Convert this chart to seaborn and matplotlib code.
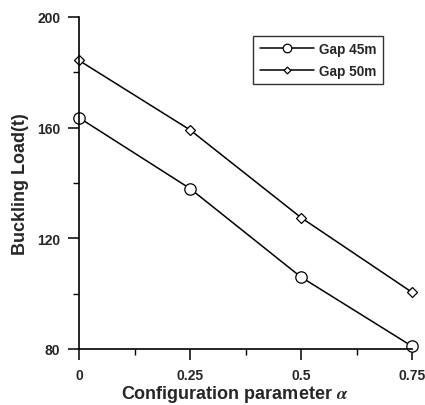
import matplotlib
matplotlib.use("Agg")
import matplotlib.pyplot as plt
import seaborn as sns
import pandas as pd
from matplotlib.ticker import MultipleLocator

# Data
alpha = [0, 0.25, 0.5, 0.75]
gap45 = [163.6, 138.0, 106.0, 81.0]
gap50 = [184.3, 159.2, 127.5, 100.5]
series_names = ["Gap 45m", "Gap 50m"]
xtick_vals = [0, 0.25, 0.5, 0.75]
xtick_labels = ["0", "0.25", "0.5", "0.75"]
ytick_vals = [80, 120, 160, 200]

sns.set_style("ticks")
plt.rcParams["font.family"] = ["Liberation Sans", "DejaVu Sans"]
plt.rcParams["font.weight"] = "bold"
plt.rcParams["mathtext.fontset"] = "stix"

fig = plt.figure(figsize=(4.25, 4.06), dpi=100)
ax = fig.add_axes([79/425, 1-350/406, (412-79)/425, (350-18)/406])

df45 = pd.DataFrame({"alpha": alpha, "load": gap45})
df50 = pd.DataFrame({"alpha": alpha, "load": gap50})

sns.lineplot(data=df45, x="alpha", y="load", ax=ax, color="black", lw=1.1,
             marker="o", markersize=8.2, markerfacecolor="white",
             markeredgecolor="black", markeredgewidth=0.9,
             label=series_names[0], clip_on=False)
sns.lineplot(data=df50, x="alpha", y="load", ax=ax, color="black", lw=1.1,
             marker="D", markersize=4.6, markerfacecolor="white",
             markeredgecolor="black", markeredgewidth=0.9,
             label=series_names[1], clip_on=False)

ax.set_xlim(0, 0.75)
ax.set_ylim(80, 200)
ax.set_xticks(xtick_vals)
ax.set_xticklabels(xtick_labels)
ax.set_yticks(ytick_vals)
ax.xaxis.set_minor_locator(MultipleLocator(0.125))
ax.yaxis.set_minor_locator(MultipleLocator(20))

for s in ["top", "right"]:
    ax.spines[s].set_visible(False)
for s in ["left", "bottom"]:
    ax.spines[s].set_linewidth(1.2)
    ax.spines[s].set_color("black")

ax.tick_params(axis="both", which="major", direction="out", length=8,
               width=1.1, color="black", labelsize=10, pad=5.5)
ax.tick_params(axis="both", which="minor", direction="out", length=4,
               width=1.0, color="black")
ax.tick_params(axis="x", which="major", pad=6)
for lab in ax.get_xticklabels() + ax.get_yticklabels():
    lab.set_fontweight("bold")

ax.set_xlabel(r"Configuration parameter $\alpha$", fontsize=13,
              fontweight="bold", labelpad=2)
ax.xaxis.set_label_coords(0.467, -0.103)
ax.set_ylabel("Buckling Load(t)", fontsize=13, fontweight="bold", labelpad=6)

leg = ax.legend(loc="upper right", bbox_to_anchor=(0.913, 0.943),
                borderaxespad=0, frameon=True, fancybox=False,
                edgecolor="black", fontsize=9.8, handlelength=4.0,
                handletextpad=0.4, borderpad=0.45, labelspacing=0.6,
                markerscale=0.75)
leg.get_frame().set_linewidth(1.0)
for t in leg.get_texts():
    t.set_fontweight("bold")

fig.savefig("out.png", dpi=100)
